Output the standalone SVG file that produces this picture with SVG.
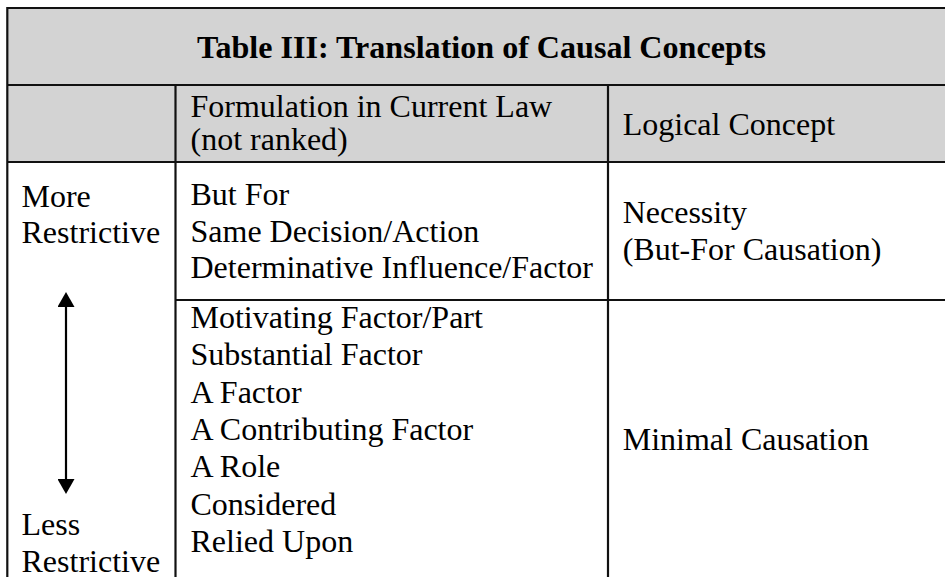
<svg xmlns="http://www.w3.org/2000/svg" width="945" height="577" viewBox="0 0 945 577">
  <style>
    .t { font-family: "Liberation Serif", "Times New Roman", serif; font-size: 32px; fill: #000; }
    .title { font-family: "Liberation Serif", "Times New Roman", serif; font-size: 32.1px; font-weight: bold; fill: #000; }
    .rule { stroke: #111; stroke-width: 2.2; fill: none; }
    .arrow { stroke: #000; stroke-width: 2.2; fill: none; }
  </style>
  <defs>
    <marker id="head" viewBox="0 0 15 17" markerWidth="15" markerHeight="17" refX="11" refY="8.5" orient="auto-start-reverse" markerUnits="userSpaceOnUse">
      <path d="M0,0 L15,8.5 L0,17 z" fill="#000"/>
    </marker>
  </defs>
  <rect x="0" y="0" width="945" height="577" fill="#fff"/>
  <!-- shaded header rows -->
  <rect x="7" y="8" width="940" height="154" fill="#d3d3d3"/>

  <!-- table rules -->
  <g id="rules">
    <line class="rule" x1="7" y1="8" x2="945" y2="8"/>
    <line class="rule" x1="7" y1="85" x2="945" y2="85"/>
    <line class="rule" x1="7" y1="162" x2="945" y2="162"/>
    <line class="rule" x1="175.5" y1="300" x2="945" y2="300"/>
    <line class="rule" x1="7.3" y1="7" x2="7.3" y2="577"/>
    <line class="rule" x1="175.5" y1="85" x2="175.5" y2="577"/>
    <line class="rule" x1="608" y1="85" x2="608" y2="577"/>
  </g>

  <g id="title">
    <text class="title" x="197" y="58">Table III: Translation of Causal Concepts</text>
  </g>

  <g id="header-formulation">
    <text class="t" x="190.5" y="117">Formulation in Current Law</text>
    <text class="t" x="190.5" y="150">(not ranked)</text>
  </g>
  <g id="header-logical">
    <text class="t" x="622.7" y="135">Logical Concept</text>
  </g>

  <g id="scale-more">
    <text class="t" x="21.5" y="206.5">More</text>
    <text class="t" x="21.5" y="243.3">Restrictive</text>
  </g>
  <g id="scale-less">
    <text class="t" x="21.5" y="535">Less</text>
    <text class="t" x="21.5" y="571.7">Restrictive</text>
  </g>

  <g id="necessity-formulations">
    <text class="t" x="190.5" y="205">But For</text>
    <text class="t" x="190.5" y="241.7">Same Decision/Action</text>
    <text class="t" x="190.5" y="278.3">Determinative Influence/Factor</text>
  </g>
  <g id="necessity-concept">
    <text class="t" x="622.7" y="223.3">Necessity</text>
    <text class="t" x="622.7" y="260">(But-For Causation)</text>
  </g>

  <g id="minimal-formulations">
    <text class="t" x="190.5" y="328">Motivating Factor/Part</text>
    <text class="t" x="190.5" y="365.3">Substantial Factor</text>
    <text class="t" x="190.5" y="402.6">A Factor</text>
    <text class="t" x="190.5" y="439.9">A Contributing Factor</text>
    <text class="t" x="190.5" y="477.2">A Role</text>
    <text class="t" x="190.5" y="514.5">Considered</text>
    <text class="t" x="190.5" y="551.8">Relied Upon</text>
  </g>
  <g id="minimal-concept">
    <text class="t" x="622.7" y="450">Minimal Causation</text>
  </g>

  <g id="connectors">
    <line class="arrow" x1="66" y1="296" x2="66" y2="490" marker-start="url(#head)" marker-end="url(#head)"/>
  </g>
</svg>
